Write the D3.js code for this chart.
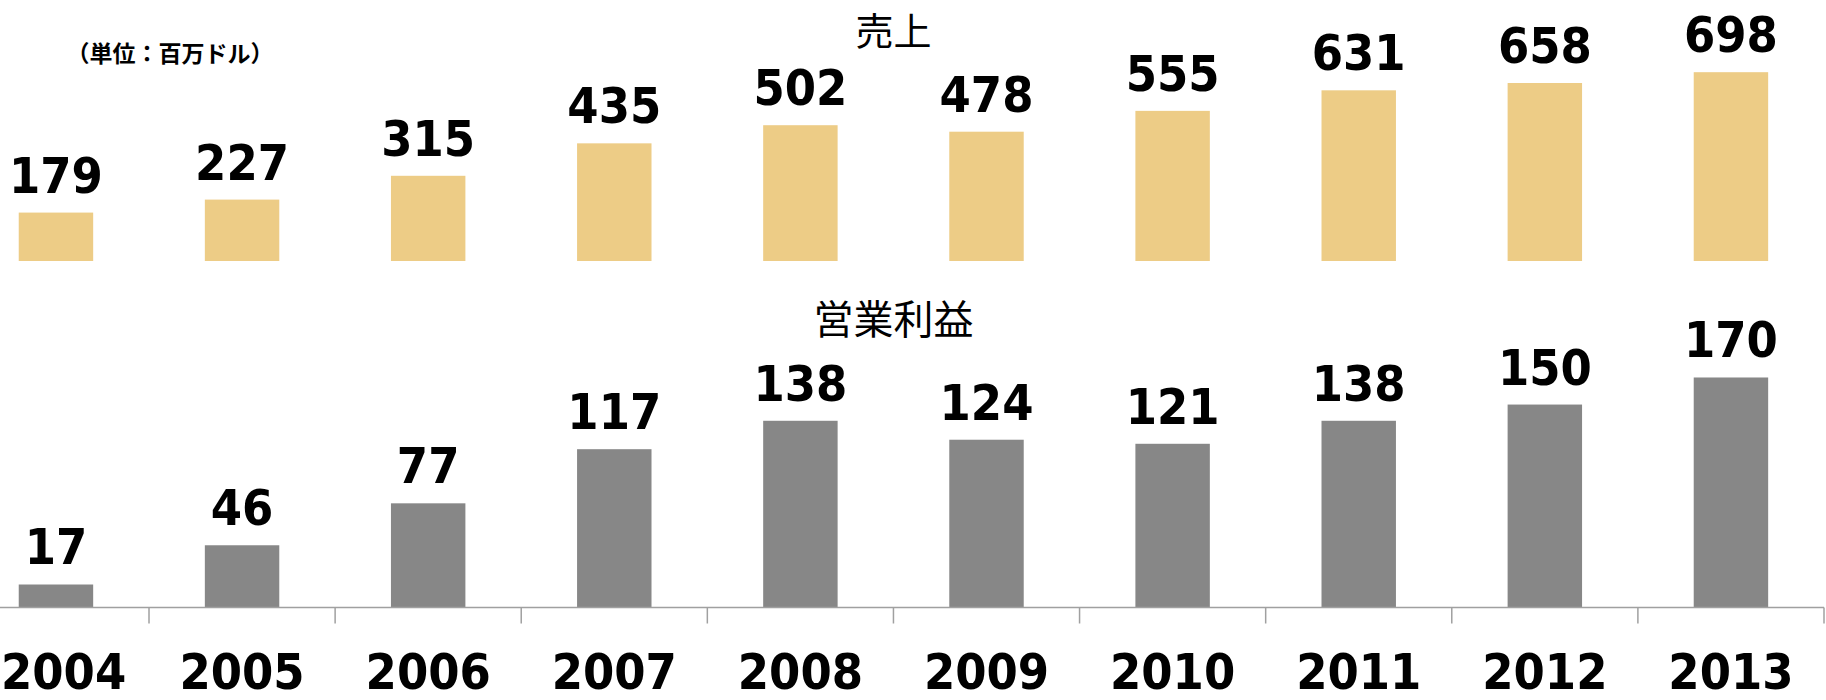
<!DOCTYPE html>
<html>
<head>
<meta charset="utf-8">
<script src="https://cdn.jsdelivr.net/npm/d3@7"></script>
<style>
  html, body { margin: 0; padding: 0; background: #fff; overflow: hidden; }
  .num { font-family: "DejaVu Sans Condensed", "DejaVu Sans", sans-serif; font-weight: bold; fill: #000; }
  .jp { font-family: "Noto Sans CJK JP", sans-serif; fill: #000; }
</style>
</head>
<body>
<div id="chart"></div>
<script>
// data
var years = ["2004", "2005", "2006", "2007", "2008", "2009", "2010", "2011", "2012", "2013"];
var sales = [179, 227, 315, 435, 502, 478, 555, 631, 658, 698];
var profit = [17, 46, 77, 117, 138, 124, 121, 138, 150, 170];
var salesTitle = "売上";
var profitTitle = "営業利益";
var unitLabel = "（単位：百万ドル）";

var W = 1826, H = 700;

var svg = d3.select("#chart").append("svg")
    .attr("width", W)
    .attr("height", H);

// the category band runs off the left edge, like the original
var x = d3.scaleBand()
    .domain(years)
    .range([-37.1, 1824])
    .paddingInner(0.6)
    .paddingOuter(0.3);

var yTop = d3.scaleLinear().domain([0, 1000]).range([261, 261 - 270.5]);
var yBottom = d3.scaleLinear().domain([0, 200]).range([607.5, 607.5 - 270.6]);

/**
 * draw one row of bars with value labels
 */
function drawBars(values, y, fill, cls) {
    var g = svg.append("g").attr("class", cls);
    g.selectAll("rect")
        .data(values)
        .enter().append("rect")
        .attr("x", function (d, i) { return x(years[i]); })
        .attr("width", x.bandwidth())
        .attr("y", function (d) { return y(d); })
        .attr("height", function (d) { return y(0) - y(d); })
        .style("fill", fill);

    g.selectAll("text")
        .data(values)
        .enter().append("text")
        .attr("class", "num")
        .attr("x", function (d, i) { return x(years[i]) + x.bandwidth() / 2; })
        .attr("y", function (d) { return y(d) - 20; })
        .attr("text-anchor", "middle")
        .style("font-size", "50px")
        .text(function (d) { return d; });
}

drawBars(sales, yTop, "#edcc86", "sales");
drawBars(profit, yBottom, "#878787", "profit");

// bottom axis: labels from d3, boundary ticks between the bands
var axis = svg.append("g")
    .attr("transform", "translate(0," + yBottom(0) + ")")
    .call(d3.axisBottom(x).tickSize(0).tickPadding(0));
axis.select(".domain").remove();
axis.selectAll("text")
    .attr("class", "num")
    .attr("y", 81)
    .attr("dy", null)
    .style("font-size", "50px")
    .style("font-family", null);

// keep the first year label inside the page
axis.selectAll(".tick").each(function () {
    var t = d3.select(this).select("text");
    var box = this.getBBox();
    var tx = d3.select(this).attr("transform").match(/translate\(([-\d.]+)/);
    var left = +tx[1] + box.x;
    if (left < 1) t.attr("x", 1 - left);
});

var step = x.step();
axis.append("line")
    .attr("x1", x.range()[0])
    .attr("x2", x.range()[1])
    .attr("y1", 0).attr("y2", 0)
    .style("stroke", "#a0a0a0")
    .style("stroke-width", 1.5);
axis.selectAll(".bound")
    .data(years)
    .enter().append("line")
    .attr("class", "bound")
    .attr("x1", function (d) { return x(d) + x.bandwidth() / 2 + step / 2; })
    .attr("x2", function (d) { return x(d) + x.bandwidth() / 2 + step / 2; })
    .attr("y1", 0).attr("y2", 16)
    .style("stroke", "#a0a0a0")
    .style("stroke-width", 1.5);

// titles
var mid = (x.range()[0] + x.range()[1]) / 2;
svg.append("text")
    .attr("class", "jp")
    .attr("x", mid).attr("y", 45)
    .attr("text-anchor", "middle")
    .style("font-size", "38px")
    .text(salesTitle);
svg.append("text")
    .attr("class", "jp")
    .attr("x", mid).attr("y", 334)
    .attr("text-anchor", "middle")
    .style("font-size", "40px")
    .text(profitTitle);
svg.append("text")
    .attr("class", "jp")
    .attr("x", 170).attr("y", 62)
    .attr("text-anchor", "middle")
    .style("font-size", "23px")
    .style("font-weight", "bold")
    .text(unitLabel);
</script>
</body>
</html>
